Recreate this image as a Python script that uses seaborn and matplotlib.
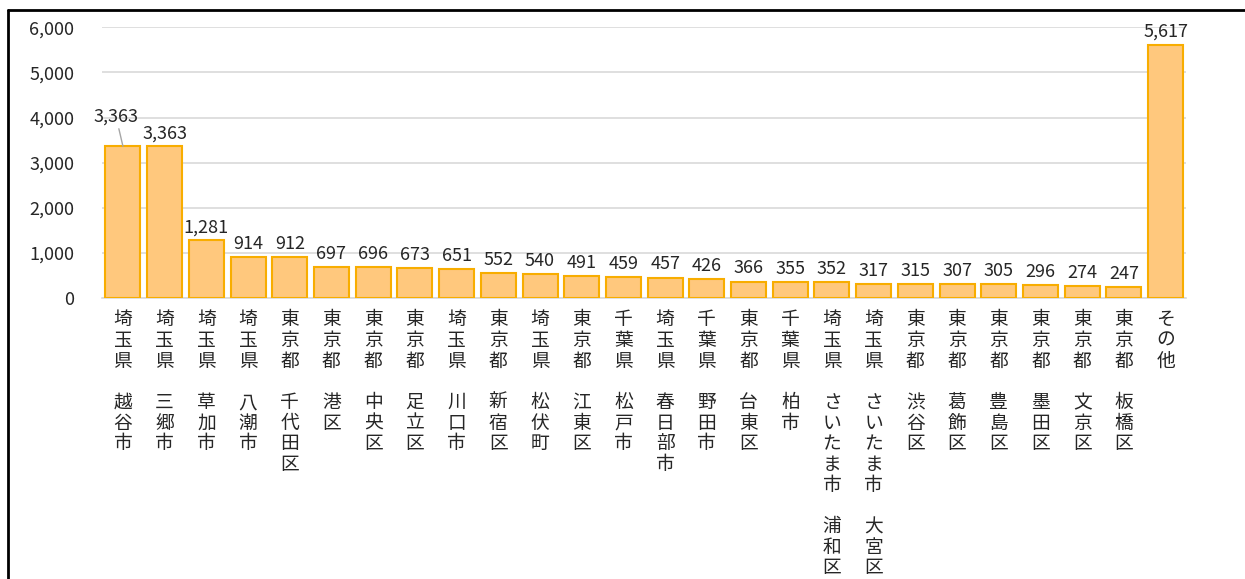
import matplotlib
matplotlib.use("Agg")
import matplotlib.pyplot as plt
from matplotlib.lines import Line2D
import seaborn as sns
import pandas as pd

# Data
prefectures = ["埼玉県", "埼玉県", "埼玉県", "埼玉県", "東京都", "東京都", "東京都", "東京都",
               "埼玉県", "東京都", "埼玉県", "東京都", "千葉県", "埼玉県", "千葉県", "東京都",
               "千葉県", "埼玉県", "埼玉県", "東京都", "東京都", "東京都", "東京都", "東京都",
               "東京都", "その他"]
cities = ["越谷市", "三郷市", "草加市", "八潮市", "千代田区", "港区", "中央区", "足立区",
          "川口市", "新宿区", "松伏町", "江東区", "松戸市", "春日部市", "野田市", "台東区",
          "柏市", "さいたま市 浦和区", "さいたま市 大宮区", "渋谷区", "葛飾区", "豊島区",
          "墨田区", "文京区", "板橋区", ""]
values = [3363, 3363, 1281, 914, 912, 697, 696, 673, 651, 552, 540, 491, 459, 457, 426,
          366, 355, 352, 317, 315, 307, 305, 296, 274, 247, 5617]


def vertical_label(pref, city):
    # stack characters top to bottom, blank line between parts
    parts = [pref] + [p for p in city.split(" ") if p]
    lines = []
    for i, p in enumerate(parts):
        if i > 0:
            lines.append("")
        lines.extend(list(p))
    return "\n".join(lines)


labels = [vertical_label(p, c) for p, c in zip(prefectures, cities)]
df = pd.DataFrame({"label": labels, "value": values})

sns.set_style("white")
plt.rcParams["font.family"] = ["Noto Sans CJK JP", "DejaVu Sans"]

fig = plt.figure(figsize=(12.45, 5.79), dpi=100)
ax = fig.add_axes([0.082, 0.485, 0.871, 0.468])

sns.barplot(data=df, x="label", y="value", color="#FFC87D", saturation=1,
            edgecolor="#F8AD00", linewidth=1.5, width=0.84, ax=ax, zorder=3)

ax.set_ylim(0, 6000)
ax.set_xlim(-0.5, len(values) - 0.5)
ax.set_yticks(range(0, 6001, 1000))
ax.set_yticklabels([f"{v:,}" for v in range(0, 6001, 1000)], fontsize=13, color="#262626")
ax.yaxis.grid(True, color="#D9D9D9", linewidth=1.2, zorder=0)
ax.set_axisbelow(True)
ax.set_xlabel("")
ax.set_ylabel("")
ax.tick_params(axis="y", length=0, pad=20)
ax.tick_params(axis="x", length=0, pad=8)
ax.set_xticks(range(len(labels)))
ax.set_xticklabels(labels, fontsize=13.5, color="#262626", linespacing=0.98, va="top")

for s in ["top", "right", "left"]:
    ax.spines[s].set_visible(False)
ax.spines["bottom"].set_color("#D9D9D9")
ax.spines["bottom"].set_linewidth(1.2)

# value labels
for i, v in enumerate(values):
    if i == 0:
        ax.annotate(f"{v:,}", xy=(i, v), xytext=(-5, 15), textcoords="offset points",
                    ha="center", va="bottom", fontsize=13, color="#262626",
                    arrowprops=dict(arrowstyle="-", color="#A6A6A6", lw=1,
                                    shrinkA=0, shrinkB=0), annotation_clip=False)
    else:
        ax.annotate(f"{v:,}", xy=(i, v), xytext=(0, 3), textcoords="offset points",
                    ha="center", va="bottom", fontsize=13, color="#262626",
                    annotation_clip=False)

# outer frame (left and top edges visible)
fig.add_artist(Line2D([0.0065, 0.0065], [0.0, 0.983], transform=fig.transFigure,
                      color="black", linewidth=2))
fig.add_artist(Line2D([0.0065, 1.0], [0.983, 0.983], transform=fig.transFigure,
                      color="black", linewidth=2))

fig.savefig("out.png", dpi=100, facecolor="white")
